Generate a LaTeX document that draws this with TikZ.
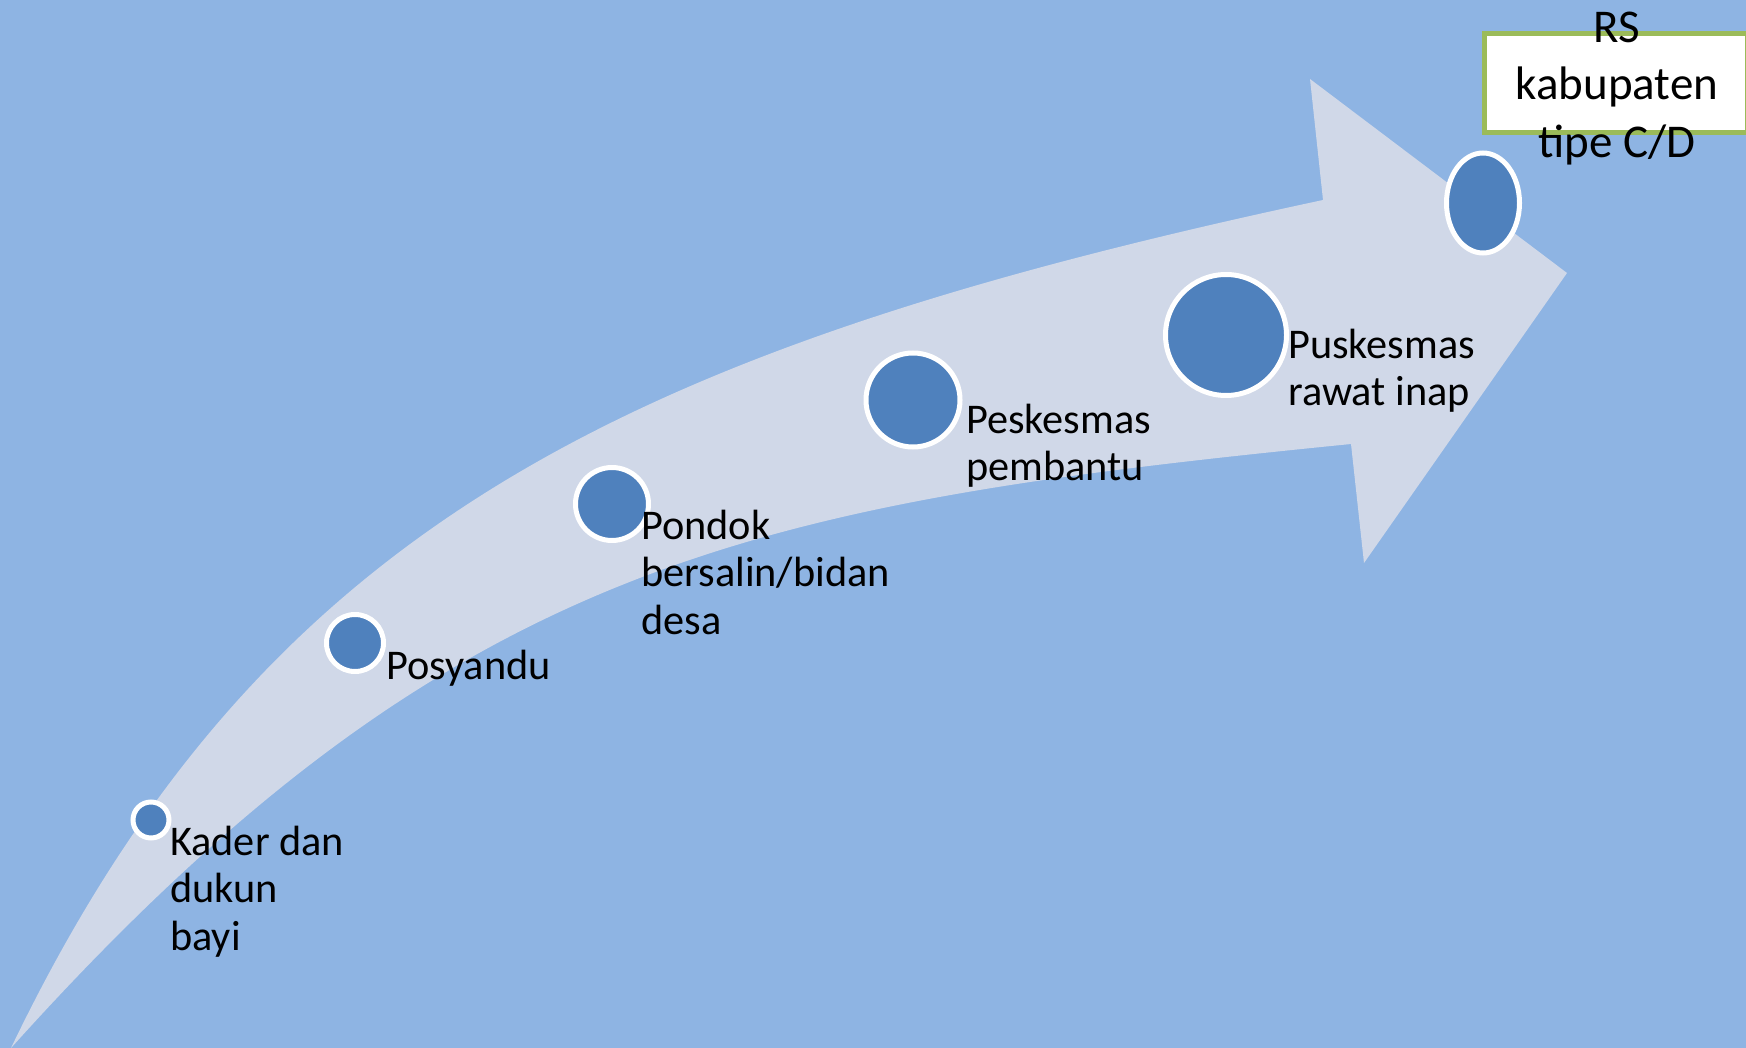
\documentclass[tikz,border=0pt]{standalone}
\usepackage{fontspec}
\setmainfont{Carlito}
\usetikzlibrary{shapes.geometric}
\definecolor{bgblue}{HTML}{8EB4E3}
\definecolor{arrowfill}{HTML}{D0D8E8}
\definecolor{dotblue}{HTML}{4F81BD}
\definecolor{boxgreen}{HTML}{9BBB59}
\newcommand\lblfont{\fontsize{42.3}{47.5}\selectfont}
\newcommand\rsfont{\fontsize{47}{57.5}\selectfont}
\begin{document}
\begin{tikzpicture}[x=1pt,y=-1pt,
  dot/.style={circle, fill=dotblue, draw=white, line width=5pt, inner sep=0pt},
  lbl/.style={anchor=north west, inner sep=0pt, align=left, font=\lblfont, text=black},
  rslbl/.style={anchor=north, inner sep=0pt, align=center, font=\rsfont, text=black},
  rsbox/.style={rectangle, draw=boxgreen, fill=white, line width=5pt, inner sep=0pt, minimum width=263pt, minimum height=99pt}]
\useasboundingbox (0,0) rectangle (1746,1048);
\clip (0,0) rectangle (1746,1048);
\fill[bgblue] (0,0) rectangle (1746,1048);
% curved arrow
\fill[arrowfill] (11,1048) .. controls (261,528) and (621,350) .. (1323,200)
  -- (1310,79) -- (1567,273) -- (1364,563) -- (1351,444)
  .. controls (751,504) and (450,560) .. (11,1048) -- cycle;
% box
\node[rsbox] (box) at (1616,83) {};
% circles
\node[dot, minimum size=36pt] (kader) at (151,820) {};
\node[dot, minimum size=57pt] (posyandu) at (355,643) {};
\node[dot, minimum size=73pt] (pondok) at (612,504) {};
\node[dot, minimum size=94pt] (peskesmas) at (913,400) {};
\node[dot, minimum size=121pt] (puskesmas) at (1226,335) {};
\node[dot, ellipse, minimum width=73pt, minimum height=100pt] (rs) at (1483,203) {};
% labels
\node[lbl] (tkader) at (170,821.75) {\strut Kader dan\\dukun\\bayi};
\node[lbl] (tposyandu) at (386,645.75) {\strut Posyandu};
\node[lbl] (tpondok) at (641,505.75) {\strut Pondok\\bersalin/bidan\\desa};
\node[lbl] (tpeskesmas) at (966,399.75) {\strut Peskesmas\\pembantu};
\node[lbl] (tpuskesmas) at (1288,324.75) {\strut Puskesmas\\rawat inap};
\node[rslbl] (trs) at (1617,1.75) {\strut RS\\kabupaten\\tipe C/D};
\end{tikzpicture}
\end{document}
